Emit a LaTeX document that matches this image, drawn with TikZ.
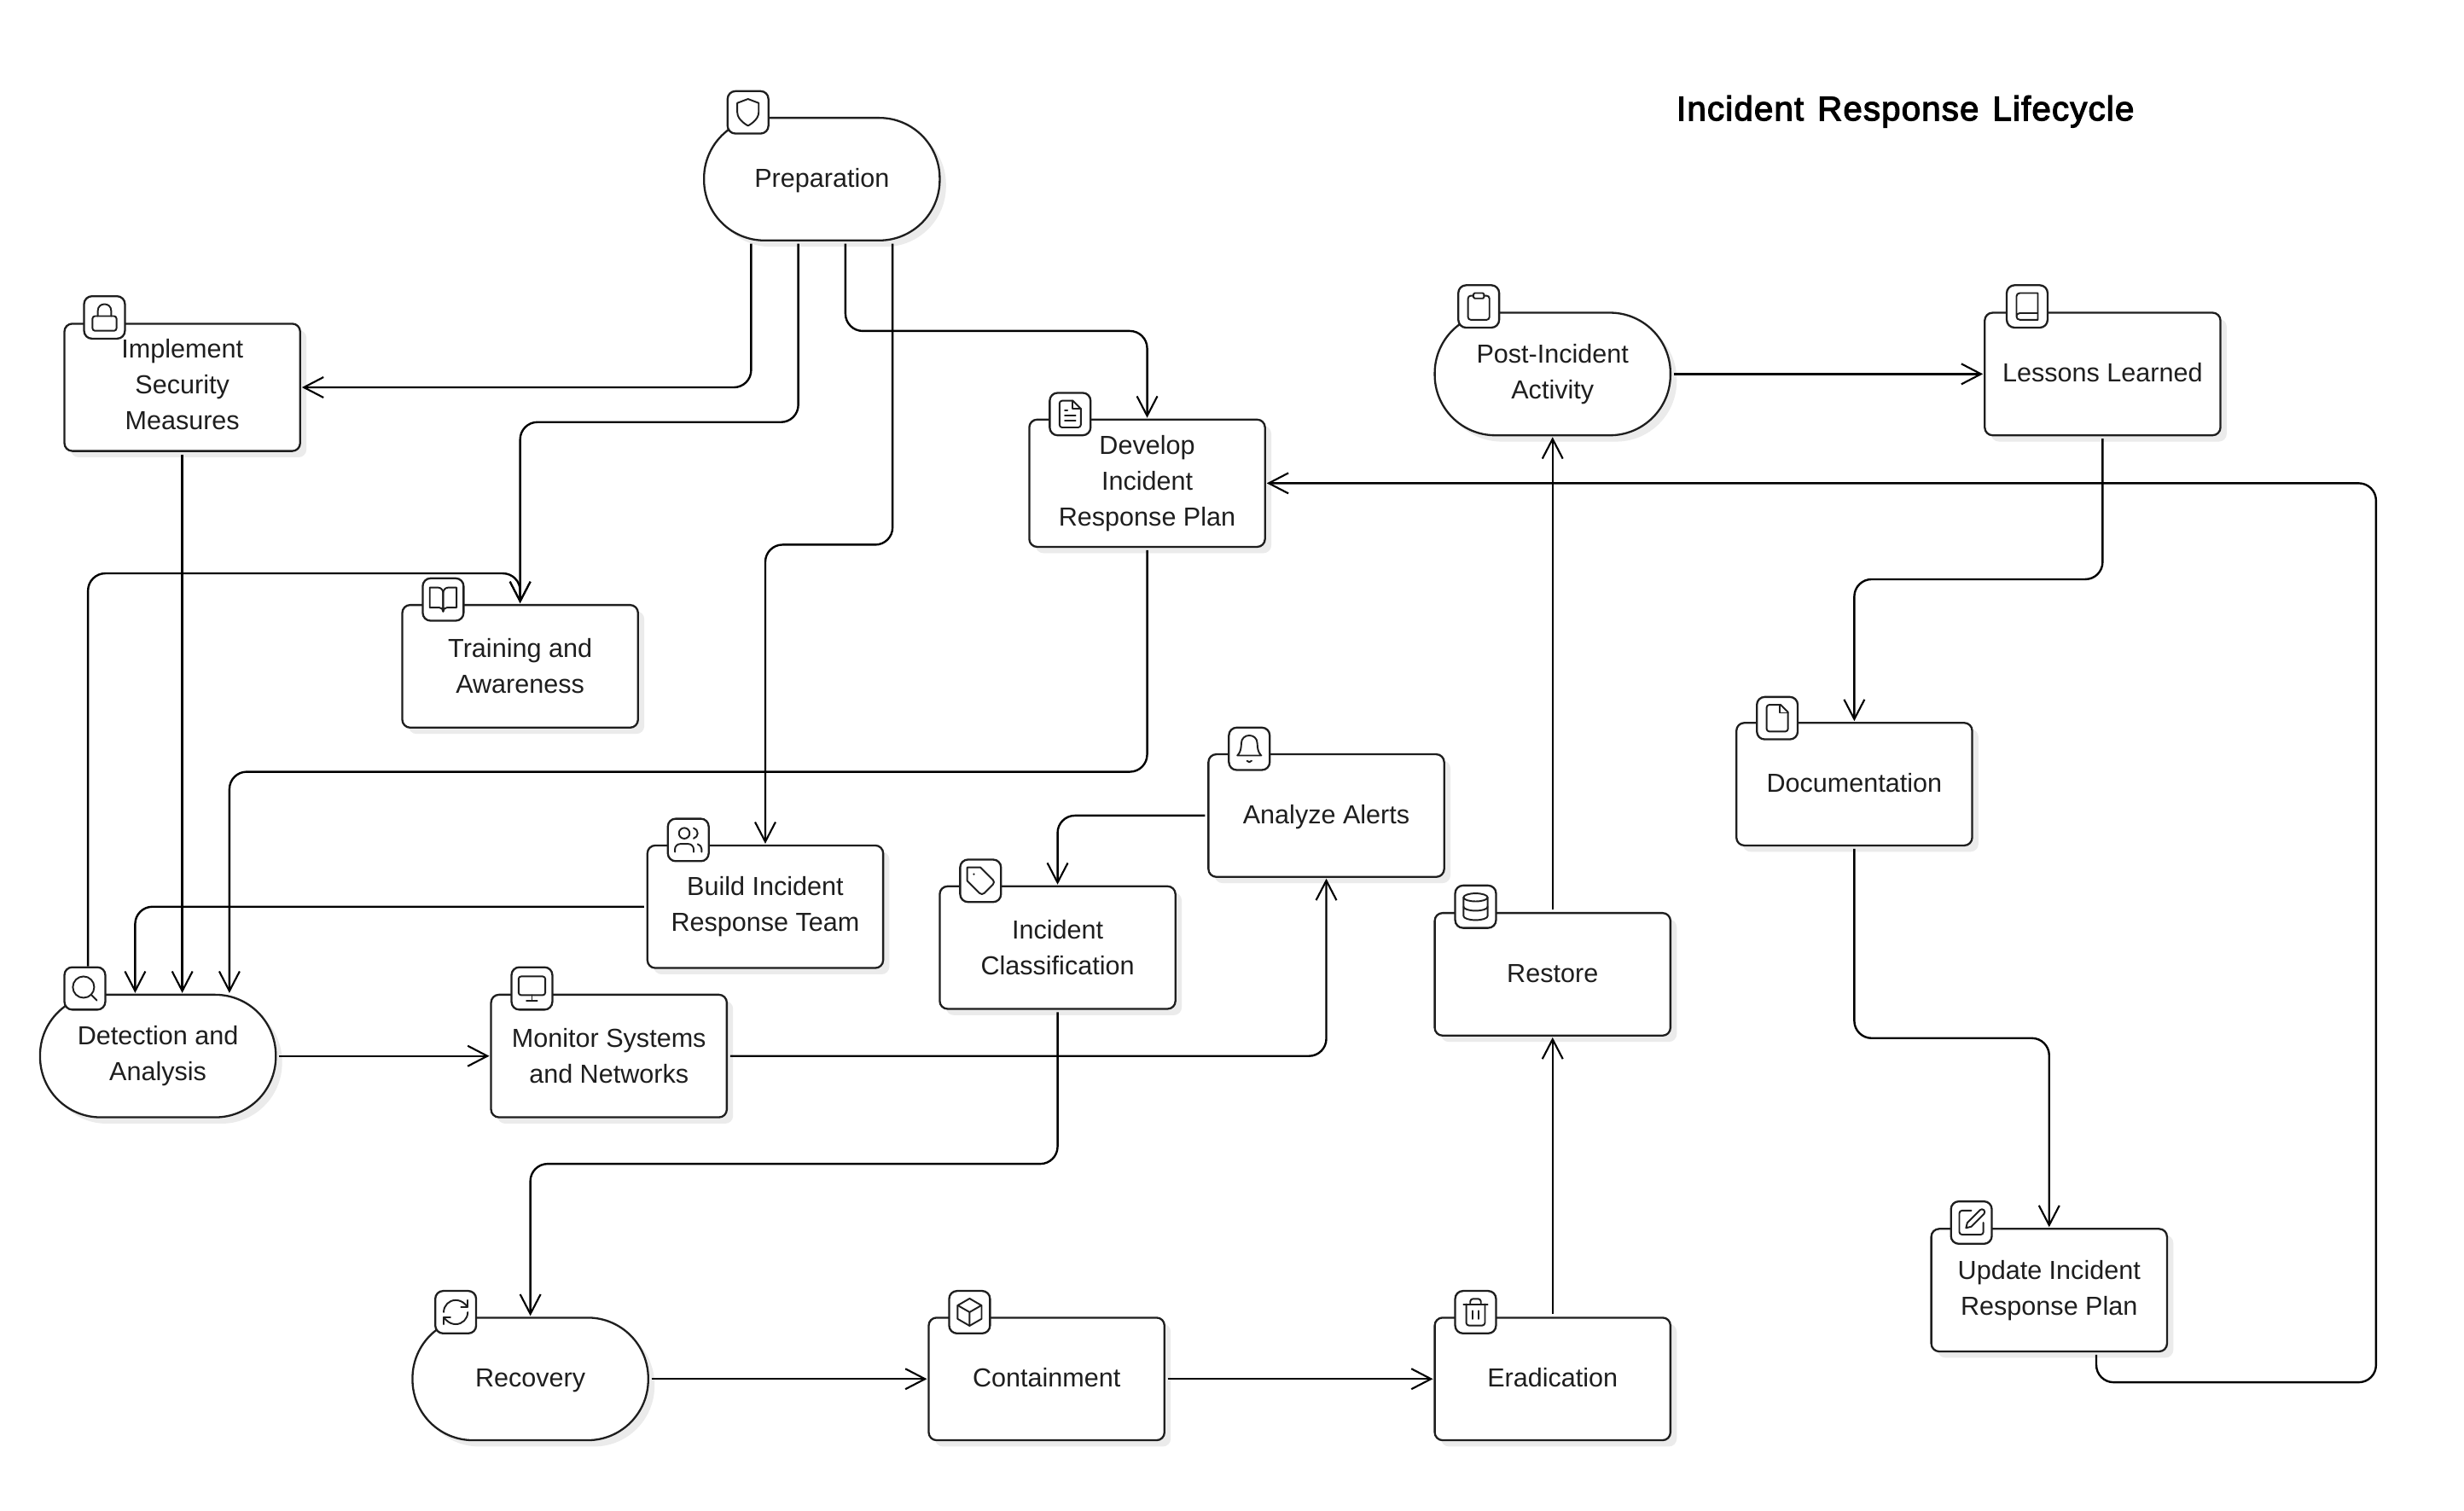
\documentclass[tikz,border=0pt]{standalone}
\usepackage{fontspec}
\setmainfont{Liberation Sans}
\newfontfamily\titleface[FakeBold=3,LetterSpace=3,WordSpace=1.3]{Liberation Sans}
\usetikzlibrary{arrows.meta,calc,shadows}
\definecolor{ink}{HTML}{1E1E1E}
\definecolor{shade}{HTML}{EBEBEB}
\newcommand{\liftby}[1]{\par\vspace*{#1}}
\tikzset{
  procbox/.style={draw=ink,line width=1.25pt,fill=white,rounded corners=5pt,minimum width=150pt,minimum height=78pt,inner sep=0pt,align=center,text=ink,
    font=\fontsize{16.6pt}{22.8pt}\selectfont,
    drop shadow={shadow xshift=4pt,shadow yshift=-4pt,fill=shade,opacity=1}},
  termbox/.style={procbox,rounded corners=38.5pt},
  oneline/.style={text height=13pt,text depth=3pt},
  iconbox/.style={draw=ink,line width=1.25pt,fill=white,rounded corners=5pt,minimum width=26pt,minimum height=27pt,inner sep=0pt},
  glyph/.style={line width=1.05pt,draw=ink,line cap=round,line join=round},
  flow/.style={draw=black,line width=1.3pt,rounded corners=11pt,shorten <=1.5pt,shorten >=0.5pt,-{Straight Barb[length=12.5pt,width=13pt,line width=1.15pt]}}
}
\newcommand{\nodeicon}[4]{\node[iconbox] (#1) at (#2,#3) {};
  \begin{scope}[shift={(#2,#3)},x=.85pt,y=-.85pt,shift={(-12,-12)}]#4\end{scope}}
\newcommand{\icShield}{\draw[glyph] (12,22) .. controls (12,22) and (20,18) .. (20,12) -- (20,5) -- (12,2) -- (4,5) -- (4,12) .. controls (4,18) and (12,22) .. (12,22) -- cycle;}
\newcommand{\icLock}{\draw[glyph,rounded corners=1.6pt] (3,11) rectangle (21,22);\draw[glyph] (7,11) -- (7,7) .. controls (7,0.4) and (17,0.4) .. (17,7) -- (17,11);}
\newcommand{\icFileText}{\draw[glyph] (14,2) -- (6,2) .. controls (4.9,2) and (4,2.9) .. (4,4) -- (4,20) .. controls (4,21.1) and (4.9,22) .. (6,22) -- (18,22) .. controls (19.1,22) and (20,21.1) .. (20,20) -- (20,8) -- cycle;
  \draw[glyph] (14,2) -- (14,8) -- (20,8) (16,13) -- (8,13) (16,17) -- (8,17) (10,9) -- (8,9);}
\newcommand{\icBookOpen}{\draw[glyph] (2,3) -- (8,3) .. controls (10.2,3) and (12,4.8) .. (12,7) -- (12,21) .. controls (12,19.3) and (10.7,18) .. (9,18) -- (2,18) -- cycle;
  \draw[glyph] (22,3) -- (16,3) .. controls (13.8,3) and (12,4.8) .. (12,7) -- (12,21) .. controls (12,19.3) and (13.3,18) .. (15,18) -- (22,18) -- cycle;}
\newcommand{\icUsers}{\draw[glyph] (16,21) -- (16,19) .. controls (16,16.8) and (14.2,15) .. (12,15) -- (6,15) .. controls (3.8,15) and (2,16.8) .. (2,19) -- (2,21);
  \draw[glyph] (9,7) circle[radius=4];
  \draw[glyph] (22,21) -- (22,19) .. controls (22,17.2) and (20.8,15.6) .. (19,15.13);
  \draw[glyph] (16,3.13) .. controls (17.8,3.6) and (19,5.2) .. (19,7) .. controls (19,8.8) and (17.8,10.4) .. (16,10.88);}
\newcommand{\icBell}{\draw[glyph] (6,8) .. controls (6,0) and (18,0) .. (18,8) .. controls (18,15) and (21,17) .. (21,17) -- (3,17) .. controls (3,17) and (6,15) .. (6,8) -- cycle;
  \draw[glyph] (10.3,21) .. controls (11,22.3) and (13,22.3) .. (13.7,21);}
\newcommand{\icTag}{\draw[glyph] (12,2) -- (2,2) -- (2,12) -- (11.3,21.3) .. controls (12.2,22.2) and (13.8,22.2) .. (14.7,21.3) -- (21.3,14.7) .. controls (22.2,13.8) and (22.2,12.2) .. (21.3,11.3) -- cycle;
  \fill[ink] (7,7) circle[radius=.8];}
\newcommand{\icSearch}{\draw[glyph] (11,11) circle[radius=8];\draw[glyph] (21,21) -- (16.65,16.65);}
\newcommand{\icMonitor}{\draw[glyph,rounded corners=1.6pt] (2,3) rectangle (22,17);\draw[glyph] (8,21) -- (16,21) (12,17) -- (12,21);}
\newcommand{\icRefresh}{\draw[glyph] (3,12) .. controls (3,7) and (7,3) .. (12,3) .. controls (14.5,3) and (16.9,4) .. (18.74,5.74) -- (21,8);
  \draw[glyph] (21,3) -- (21,8) -- (16,8);
  \draw[glyph] (21,12) .. controls (21,17) and (17,21) .. (12,21) .. controls (9.5,21) and (7.1,20) .. (5.26,18.26) -- (3,16);
  \draw[glyph] (8,16) -- (3,16) -- (3,21);}
\newcommand{\icBox}{\draw[glyph] (12,1.8) -- (21,7) -- (21,17) -- (12,22.2) -- (3,17) -- (3,7) -- cycle;
  \draw[glyph] (3.3,7) -- (12,12) -- (20.7,7) (12,22) -- (12,12);}
\newcommand{\icTrash}{\draw[glyph] (3,6) -- (21,6);
  \draw[glyph] (19,6) -- (19,20) .. controls (19,21) and (18,22) .. (17,22) -- (7,22) .. controls (6,22) and (5,21) .. (5,20) -- (5,6);
  \draw[glyph] (8,6) -- (8,4) .. controls (8,3) and (9,2) .. (10,2) -- (14,2) .. controls (15,2) and (16,3) .. (16,4) -- (16,6);
  \draw[glyph] (10,11) -- (10,17) (14,11) -- (14,17);}
\newcommand{\icDatabase}{\draw[glyph] (12,5) ellipse[x radius=9,y radius=3];
  \draw[glyph] (3,5) -- (3,19) .. controls (3,20.66) and (7,22) .. (12,22) .. controls (17,22) and (21,20.66) .. (21,19) -- (21,5);
  \draw[glyph] (3,12) .. controls (3,13.66) and (7,15) .. (12,15) .. controls (17,15) and (21,13.66) .. (21,12);}
\newcommand{\icClipboard}{\draw[glyph,rounded corners=.8pt] (8,2) rectangle (16,6);
  \draw[glyph] (16,4) -- (18,4) .. controls (19.1,4) and (20,4.9) .. (20,6) -- (20,20) .. controls (20,21.1) and (19.1,22) .. (18,22) -- (6,22) .. controls (4.9,22) and (4,21.1) .. (4,20) -- (4,6) .. controls (4,4.9) and (4.9,4) .. (6,4) -- (8,4);}
\newcommand{\icBook}{\draw[glyph] (4,19.5) -- (4,4.5) .. controls (4,3.1) and (5.1,2) .. (6.5,2) -- (20,2) -- (20,22) -- (6.5,22) .. controls (5.1,22) and (4,20.9) .. (4,19.5) .. controls (4,18.1) and (5.1,17) .. (6.5,17) -- (20,17);}
\newcommand{\icFile}{\draw[glyph] (14.5,2) -- (6,2) .. controls (4.9,2) and (4,2.9) .. (4,4) -- (4,20) .. controls (4,21.1) and (4.9,22) .. (6,22) -- (18,22) .. controls (19.1,22) and (20,21.1) .. (20,20) -- (20,7.5) -- cycle;
  \draw[glyph] (14,2) -- (14,8) -- (20,8);}
\newcommand{\icPen}{\draw[glyph] (12,3) -- (5,3) .. controls (3.9,3) and (3,3.9) .. (3,5) -- (3,19) .. controls (3,20.1) and (3.9,21) .. (5,21) -- (19,21) .. controls (20.1,21) and (21,20.1) .. (21,19) -- (21,12);
  \draw[glyph] (18.4,2.6) .. controls (19.2,1.8) and (20.6,1.8) .. (21.4,2.6) .. controls (22.2,3.4) and (22.2,4.8) .. (21.4,5.6) -- (12,15) -- (8,16) -- (9,12) -- cycle;}
\begin{document}
\begin{tikzpicture}[x=1pt,y=-1pt]
\useasboundingbox (0,0) rectangle (1568,961);
\fill[white] (0,0) rectangle (1568,961);
% title
\node[text=black,font=\fontsize{21.8pt}{26pt}\titleface] (title) at (1212.5,71) {Incident Response Lifecycle};
% main nodes
\node[termbox,oneline] (prep) at (523,114) {Preparation};
\node[procbox,minimum height=81pt] (impl) at (116,246.5) {Implement\\Security\\Measures\liftby{4pt}};
\node[procbox,minimum height=81pt] (develop) at (730,307.5) {Develop\\Incident\\Response Plan};
\node[procbox] (train) at (331,424) {Training and\\Awareness};
\node[procbox] (build) at (487,577) {Build Incident\\Response Team};
\node[procbox,oneline] (alert) at (844,519) {Analyze Alerts};
\node[procbox] (classify) at (673,603) {Incident\\Classification};
\node[termbox] (detect) at (100.5,672) {Detection and\\Analysis};
\node[procbox] (monitor) at (387.5,672) {Monitor Systems\\and Networks};
\node[termbox,oneline] (recover) at (337.5,877.5) {Recovery};
\node[procbox,oneline] (contain) at (666,877.5) {Containment};
\node[procbox,oneline] (erad) at (988,877.5) {Eradication};
\node[procbox,oneline] (restore) at (988,620) {Restore};
\node[termbox] (post) at (988,238) {Post-Incident\\Activity};
\node[procbox,oneline] (lessons) at (1338,238) {Lessons Learned};
\node[procbox,oneline] (docs) at (1180,499) {Documentation};
\node[procbox] (update) at (1304,821) {Update Incident\\Response Plan};
% icons
\nodeicon{iprep}{476}{71.5}{\icShield}
\nodeicon{iimpl}{66.5}{202}{\icLock}
\nodeicon{idevelop}{681}{263.5}{\icFileText}
\nodeicon{itrain}{282}{381.5}{\icBookOpen}
\nodeicon{ibuild}{438}{534.5}{\icUsers}
\nodeicon{ialert}{795}{476.5}{\icBell}
\nodeicon{iclassify}{624}{560.5}{\icTag}
\nodeicon{idetect}{54}{629}{\icSearch}
\nodeicon{imonitor}{338.5}{629}{\icMonitor}
\nodeicon{irecover}{290}{835}{\icRefresh}
\nodeicon{icontain}{617}{835}{\icBox}
\nodeicon{ierad}{939}{835}{\icTrash}
\nodeicon{irestore}{939}{577}{\icDatabase}
\nodeicon{ipost}{941}{195}{\icClipboard}
\nodeicon{ilessons}{1290}{195}{\icBook}
\nodeicon{idocs}{1131}{457}{\icFile}
\nodeicon{iupdate}{1254.5}{778}{\icPen}
% connectors
\draw[flow] ($(prep.south)+(-45,0)$) |- (impl.east);
\draw[flow] ($(prep.south)+(-15,0)$) -- ++(0,115) -| (train.north);
\draw[flow] ($(prep.south)+(15,0)$) -- ++(0,57) -| (develop.north);
\draw[flow] ($(prep.south)+(45,0)$) -- ++(0,193) -| (build.north);
\draw[flow] (impl.south) -- (impl.south |- detect.north);
\draw[flow,shorten <=0pt] ($(idetect.north)+(2,0)$) -- ++(0,-250) -| (train.north);
\draw[flow] (develop.south) -- ++(0,142.5) -| ($(detect.north)+(45.5,0)$);
\draw[flow] (build.west) -| ($(detect.north)+(-14.5,0)$);
\draw[flow] (detect.east) -- (monitor.west);
\draw[flow] (monitor.east) -| (alert.south);
\draw[flow] (alert.west) -| (classify.north);
\draw[flow] (classify.south) -- ++(0,98) -| (recover.north);
\draw[flow] (recover.east) -- (contain.west);
\draw[flow] (contain.east) -- (erad.west);
\draw[flow] (erad.north) -- (restore.south);
\draw[flow] (restore.north) -- (post.south);
\draw[flow] (post.east) -- (lessons.west);
\draw[flow] (lessons.south) -- ++(0,91) -| (docs.north);
\draw[flow] (docs.south) -- ++(0,122) -| (update.north);
\draw[flow] ($(update.south)+(30,0)$) -- ++(0,19) -- ++(178,0) |- (develop.east);
\end{tikzpicture}
\end{document}
